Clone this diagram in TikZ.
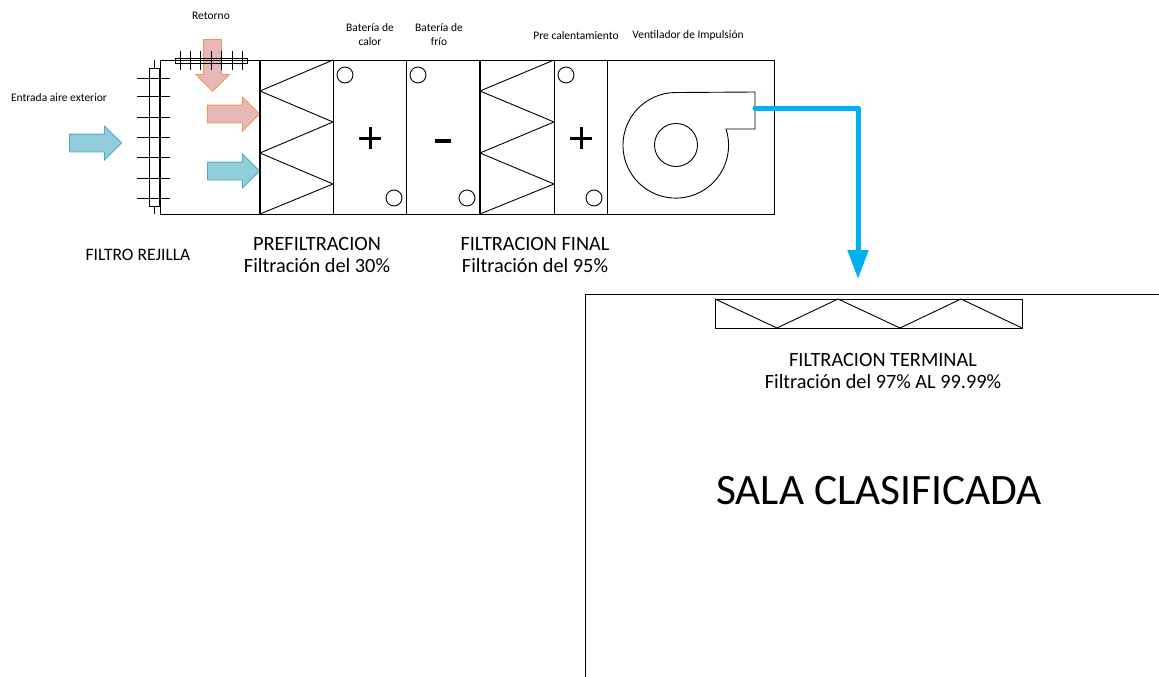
\documentclass[tikz,border=0pt]{standalone}
\usepackage{fontspec}
\setmainfont{Carlito}
\usetikzlibrary{arrows.meta,shapes.arrows}
\definecolor{airblue}{HTML}{92CDDC}
\definecolor{airblueline}{HTML}{4BACC6}
\definecolor{airpink}{HTML}{E6B8B7}
\definecolor{airpinkline}{HTML}{F79646}
\definecolor{ductblue}{HTML}{00B0F0}
\tikzset{
  wall/.style={black, line width=1.1pt},
  thinwall/.style={black, line width=0.9pt},
  airflow/.style={single arrow, minimum height=52pt, minimum width=33pt,
    text height=17pt, text depth=0pt, text width=0pt, anchor=tip,
    single arrow head extend=8pt, single arrow tip angle=90, inner sep=0pt,
    line width=0.8pt},
  outdoorair/.style={airflow, fill=airblue, draw=airblueline},
  returnair/.style={airflow, fill=airpink, draw=airpinkline},
  duct/.style={ductblue, line width=5pt, line cap=round, line join=round,
    -{Triangle[length=29pt,width=20pt]}},
  smalllabel/.style={align=center, inner sep=0pt, font=\fontsize{11.5}{14}\selectfont},
  midlabel/.style={align=center, inner sep=0pt, font=\fontsize{20.3}{22}\selectfont},
}
\begin{document}
\begin{tikzpicture}[x=1pt,y=1pt]
  \useasboundingbox (0,-677) rectangle (1159,0);

  % air arrows
  \node[outdoorair] (outdoor) at (122,-143) {};
  \node[returnair] (mixpink) at (260,-114) {};
  \node[outdoorair] (mixblue) at (260,-171) {};
  \node[returnair, rotate=270] (return) at (212.5,-92) {};

  % casing
  \draw[thinwall] (160,-60) rectangle (774,-214);
  \draw[wall] (260,-60) -- (260,-214);
  \draw[thinwall] (333,-60) -- (333,-214);
  \draw[thinwall] (406,-60) -- (406,-214);
  \draw[wall] (480,-60) -- (480,-214);
  \draw[thinwall] (554,-60) -- (554,-214);
  \draw[thinwall] (607,-60) -- (607,-214);

  % filters
  \draw[thinwall]
    (333,-60) --
    (260,-91) --
    (333,-122) --
    (260,-153) --
    (333,-184) --
    (260,-214);
  \draw[thinwall]
    (554,-60) --
    (480,-91) --
    (554,-122) --
    (480,-153) --
    (554,-184) --
    (480,-214);

  % coil connections
  \draw[thinwall] (345,-75) circle (8);
  \draw[thinwall] (394,-198) circle (8);
  \draw[thinwall] (418,-75) circle (8);
  \draw[thinwall] (467,-198) circle (8);
  \draw[thinwall] (566,-75) circle (8);
  \draw[thinwall] (594,-198) circle (8);

  % plus and minus
  \draw[black, line width=3pt] (359,-138) -- (381,-138);
  \draw[black, line width=3pt] (370,-127) -- (370,-149);
  \draw[black, line width=4pt] (435,-141) -- (451,-141);
  \draw[black, line width=3pt] (570,-138) -- (592,-138);
  \draw[black, line width=3pt] (581,-127) -- (581,-149);

  % fan
  \draw[thinwall] (726,-129) arc[start angle=18, end angle=-270, radius=52.8] --
    (755,-92) -- (755,-129) -- cycle;
  \draw[thinwall] (676,-145) circle (21.5);

  % side grille
  \draw[thinwall] (154,-60) -- (154,-68);
  \draw[thinwall] (154,-206) -- (154,-214);
  \draw[thinwall] (149,-68) rectangle (159,-206);
  \draw[thinwall] (137,-78.5) -- (170,-78.5);
  \draw[thinwall] (137,-96) -- (170,-96);
  \draw[thinwall] (137,-117) -- (170,-117);
  \draw[thinwall] (137,-137) -- (170,-137);
  \draw[thinwall] (137,-157) -- (170,-157);
  \draw[thinwall] (137,-178) -- (170,-178);
  \draw[thinwall] (137,-198) -- (170,-198);

  % top grille
  \draw[thinwall] (171,-60) -- (260,-60);
  \draw[thinwall] (175,-58) rectangle (247,-63);
  \draw[thinwall] (180,-51) -- (180,-70);
  \draw[thinwall] (190,-51) -- (190,-70);
  \draw[thinwall] (200,-51) -- (200,-70);
  \draw[thinwall] (211,-51) -- (211,-70);
  \draw[thinwall] (221,-51) -- (221,-70);
  \draw[thinwall] (232,-51) -- (232,-70);
  \draw[thinwall] (242,-51) -- (242,-70);

  % supply duct
  \coordinate (fanout) at (755,-108);
  \coordinate (roomin) at (858,-279);
  \draw[duct] (fanout) -| (roomin);

  % room and terminal filter
  \draw[thinwall] (585,-677) -- (585,-294) -- (1159,-294);
  \draw[thinwall] (715,-299) rectangle (1022,-328);
  \draw[thinwall]
    (715,-299) --
    (777,-328) --
    (838,-299) --
    (900,-328) --
    (961,-299) --
    (1022,-328);

  % labels
  \node[smalllabel] (retorno) at (211,-16) {Retorno};
  \node[smalllabel] (entrada) at (59,-98) {Entrada aire exterior};
  \node[smalllabel] (calor) at (370,-35) {Batería de\\calor};
  \node[smalllabel] (frio) at (439,-35) {Batería de\\frío};
  \node[smalllabel] (precal) at (576,-36) {Pre calentamiento};
  \node[smalllabel] (ventilador) at (688,-35) {Ventilador de Impulsión};
  \node[inner sep=0pt, font=\fontsize{17.5}{20}\selectfont] (rejilla) at (138,-255) {FILTRO REJILLA};
  \node[midlabel] (prefiltro) at (317,-255) {PREFILTRACION\\Filtración del 30\%};
  \node[midlabel] (filtrofinal) at (535,-255) {FILTRACION FINAL\\Filtración del 95\%};
  \node[midlabel] (terminal) at (883,-371) {FILTRACION TERMINAL\\Filtración del 97\% AL 99.99\%};
  \node[inner sep=0pt, font=\fontsize{43.4}{50}\selectfont] (sala) at (879,-491) {SALA CLASIFICADA};
\end{tikzpicture}
\end{document}
